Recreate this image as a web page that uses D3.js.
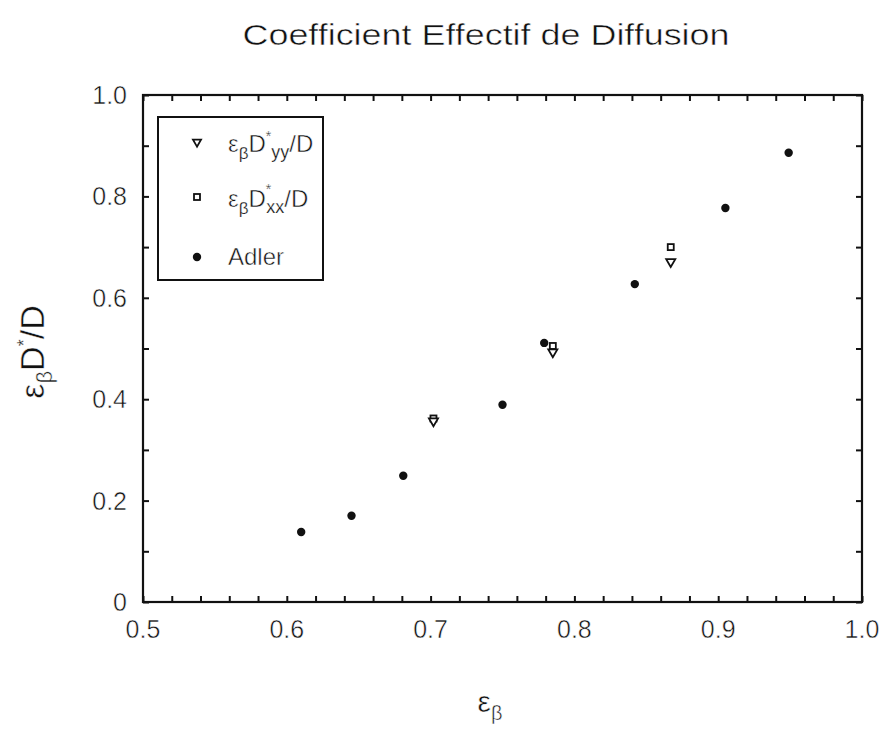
<!DOCTYPE html>
<html><head><meta charset="utf-8">
<script src="https://cdn.jsdelivr.net/npm/d3@7"></script>
<style>
body{margin:0;background:#fff}
text{font-family:"Liberation Sans Narrow","Liberation Sans",Arial,sans-serif;fill:#111;stroke:#fff;stroke-width:0.5px}
tspan.small{stroke-width:0.25px}
</style>
</head><body>
<svg id="chart" width="880" height="736"></svg>
<script>
// Porosity (x) and normalised effective diffusion (y)
const adlerX = [0.610, 0.645, 0.681, 0.750, 0.779, 0.842, 0.905, 0.949];
const adlerY = [0.138, 0.170, 0.249, 0.389, 0.511, 0.627, 0.777, 0.886];
const dxxX = [0.702, 0.785, 0.867];
const dxxY = [0.362, 0.505, 0.700];
const dyyX = [0.702, 0.785, 0.867];
const dyyY = [0.357, 0.493, 0.671];
const xTickLabels = ["0.5", "0.6", "0.7", "0.8", "0.9", "1.0"];
const yTickLabels = ["0", "0.2", "0.4", "0.6", "0.8", "1.0"];

const svg = d3.select("#chart");
const L = 143, R = 862, T = 95, B = 602;
const x = d3.scaleLinear().domain([0.5, 1.0]).range([L, R]);
const y = d3.scaleLinear().domain([0, 1.0]).range([B, T]);

const xMinor = d3.range(0, 26).map(i => 0.5 + i * 0.02);
const yMinor = d3.range(0, 11).map(i => i * 0.1);

// inward ticks on all four sides
const tick = 6;
svg.append("g").attr("transform", `translate(0,${B})`)
  .call(d3.axisBottom(x).tickValues(xMinor).tickSize(-tick).tickFormat(""));
svg.append("g").attr("transform", `translate(0,${T})`)
  .call(d3.axisTop(x).tickValues(xMinor).tickSize(-tick).tickFormat(""));
svg.append("g").attr("transform", `translate(${L},0)`)
  .call(d3.axisLeft(y).tickValues(yMinor).tickSize(-tick).tickFormat(""));
svg.append("g").attr("transform", `translate(${R},0)`)
  .call(d3.axisRight(y).tickValues(yMinor).tickSize(-tick).tickFormat(""));
svg.selectAll(".domain").remove();
svg.selectAll(".tick line").attr("stroke", "#111").attr("stroke-width", 2);

// frame
svg.append("rect").attr("x", L).attr("y", T).attr("width", R - L).attr("height", B - T)
  .attr("fill", "none").attr("stroke", "#111").attr("stroke-width", 2.2);

// tick labels
svg.append("g").selectAll("text").data(xTickLabels).join("text")
  .attr("x", d => x(+d)).attr("y", 638).attr("text-anchor", "middle")
  .attr("font-size", 25).text(d => d);
svg.append("g").selectAll("text").data(yTickLabels).join("text")
  .attr("x", 127).attr("y", d => y(+d) + 9).attr("text-anchor", "end")
  .attr("font-size", 25).text(d => d);

// title
svg.append("text").attr("x", 486).attr("y", 45).attr("text-anchor", "middle")
  .attr("font-size", 30).attr("textLength", 487).attr("lengthAdjust", "spacingAndGlyphs")
  .text("Coefficient Effectif de Diffusion");

// y axis label
const yl = svg.append("text").attr("transform", "translate(44,352) rotate(-90)")
  .attr("text-anchor", "middle").attr("font-size", 34);
yl.append("tspan").text("ε");
yl.append("tspan").attr("font-size", 22).attr("dy", 8).text("β");
yl.append("tspan").attr("dy", -8).text("D");
yl.append("tspan").attr("class", "small").attr("font-size", 18).attr("dy", -14).text("*");
yl.append("tspan").attr("dy", 14).text("/D");

// x axis label
const xl = svg.append("text").attr("x", 490).attr("y", 712)
  .attr("text-anchor", "middle").attr("font-size", 30);
xl.append("tspan").text("ε");
xl.append("tspan").attr("font-size", 20).attr("dy", 8).text("β");

// markers
const tri = d3.symbol().type(d3.symbolTriangle).size(36);
function drawCircles(xs, ys) {
  svg.append("g").selectAll("circle").data(xs).join("circle")
    .attr("cx", d => x(d)).attr("cy", (d, i) => y(ys[i])).attr("r", 4.2).attr("fill", "#111");
}
function drawSquares(xs, ys) {
  svg.append("g").selectAll("rect").data(xs).join("rect")
    .attr("x", d => x(d) - 3).attr("y", (d, i) => y(ys[i]) - 3)
    .attr("width", 6).attr("height", 6).attr("fill", "#fff").attr("stroke", "#111").attr("stroke-width", 1.8);
}
function drawTriangles(xs, ys) {
  svg.append("g").selectAll("path").data(xs).join("path")
    .attr("d", tri).attr("transform", (d, i) => `translate(${x(d)},${y(ys[i])}) rotate(180)`)
    .attr("fill", "#fff").attr("stroke", "#111").attr("stroke-width", 1.8);
}
drawCircles(adlerX, adlerY);
drawSquares(dxxX, dxxY);
drawTriangles(dyyX, dyyY);

// legend
const lg = svg.append("g");
lg.append("rect").attr("x", 158).attr("y", 117).attr("width", 165).attr("height", 163)
  .attr("fill", "#fff").attr("stroke", "#111").attr("stroke-width", 2);
lg.append("path").attr("d", d3.symbol().type(d3.symbolTriangle).size(28))
  .attr("transform", "translate(197,142) rotate(180)")
  .attr("fill", "#fff").attr("stroke", "#111").attr("stroke-width", 1.8);
lg.append("rect").attr("x", 194).attr("y", 194).attr("width", 6).attr("height", 6)
  .attr("fill", "#fff").attr("stroke", "#111").attr("stroke-width", 1.8);
lg.append("circle").attr("cx", 197).attr("cy", 257).attr("r", 4.2).attr("fill", "#111");

const t1 = lg.append("text").attr("x", 228).attr("y", 152).attr("font-size", 24);
t1.append("tspan").text("ε");
t1.append("tspan").attr("class", "small").attr("font-size", 17).attr("dy", 7).text("β");
t1.append("tspan").attr("dy", -7).text("D");
t1.append("tspan").attr("class", "small").attr("font-size", 14).attr("dy", -11).text("*");
t1.append("tspan").attr("class", "small").attr("font-size", 18).attr("dy", 17).text("yy");
t1.append("tspan").attr("dy", -6).text("/D");

const t2 = lg.append("text").attr("x", 228).attr("y", 207).attr("font-size", 24);
t2.append("tspan").text("ε");
t2.append("tspan").attr("class", "small").attr("font-size", 17).attr("dy", 7).text("β");
t2.append("tspan").attr("dy", -7).text("D");
t2.append("tspan").attr("class", "small").attr("font-size", 14).attr("dy", -13).text("*");
t2.append("tspan").attr("class", "small").attr("font-size", 18).attr("dx", -5).attr("dy", 19).text("xx");
t2.append("tspan").attr("dy", -6).text("/D");

lg.append("text").attr("x", 228).attr("y", 265).attr("font-size", 24).text("Adler");
</script>
</body></html>
